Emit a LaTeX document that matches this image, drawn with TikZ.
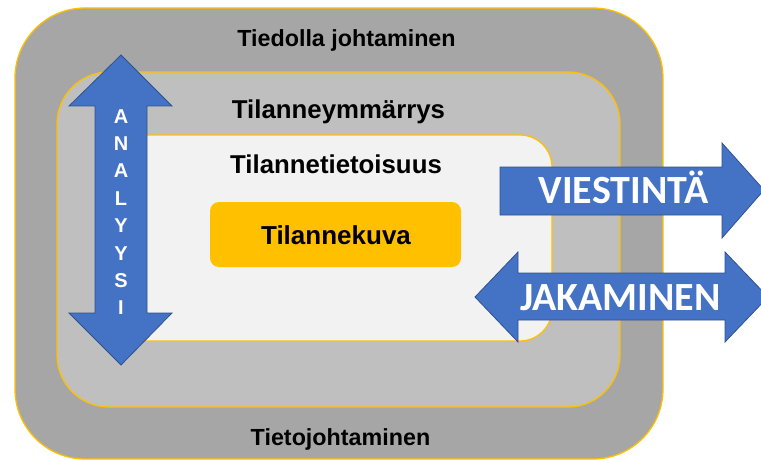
\documentclass[tikz,border=0pt]{standalone}
\usepackage{fontspec}
\setmainfont{Liberation Sans}
\newfontfamily\carlito{Carlito}
\definecolor{ringA}{HTML}{A6A6A6}
\definecolor{ringB}{HTML}{BFBFBF}
\definecolor{ringC}{HTML}{F2F2F2}
\definecolor{gold}{HTML}{FFC000}
\definecolor{blueF}{HTML}{4472C4}
\definecolor{blueD}{HTML}{2F528F}
\tikzset{
  ring/.style={draw=gold, line width=1.3pt},
  bluearrow/.style={fill=blueF, draw=blueD, line width=0.8pt, line join=miter},
  lbl/.style={font=\bfseries\fontsize{#1}{#1}\selectfont, anchor=base, inner sep=0pt},
  lbl/.default=23.3,
  biglbl/.style={font=\carlito\bfseries\fontsize{40}{40}\selectfont, text=white, anchor=base, inner sep=0pt},
  letter/.style={font=\bfseries\fontsize{20}{20}\selectfont, text=white, anchor=base, inner sep=0pt}
}
\begin{document}
\begin{tikzpicture}[x=1pt,y=-1pt]
\useasboundingbox (0,0) rectangle (761,460);
% rings
\draw[ring, fill=ringA, rounded corners=70pt] (15,8) rectangle (663,459);
\draw[ring, fill=ringB, rounded corners=52pt] (57,72) rectangle (620,407);
\draw[ring, fill=ringC, rounded corners=32pt] (110,135) rectangle (552,341);
\node[fill=gold, rounded corners=9pt, minimum width=251pt, minimum height=65pt, inner sep=0pt] (kuva) at (335.5,234.5) {};
% labels
\node[lbl] (tj1) at (346.5,47) {Tiedolla johtaminen};
\node[lbl=25.8] (tym) at (338.5,118) {Tilanneymmärrys};
\node[lbl=25.8] (tti) at (336,173) {Tilannetietoisuus};
\node[lbl=26] (tku) at (336,244) {Tilannekuva};
\node[lbl] (tj2) at (340.5,445) {Tietojohtaminen};
% analysis arrow
\draw[bluearrow] (121,55) -- (172,106) -- (147,106) -- (147,313) -- (172,313) -- (121,365)
  -- (69,313) -- (95,313) -- (95,106) -- (69,106) -- cycle;
\foreach \ch [count=\i from 0] in {A,N,A,L,Y,Y,S,I}{
  \node[letter] (an\i) at (121,123+27.4*\i) {\ch};
}
% viestinta arrow
\draw[bluearrow] (500,167) -- (722,167) -- (722,143) -- (764,190) -- (722,238) -- (722,215) -- (500,215) -- cycle;
\node[biglbl] (vies) at (623.5,203) {VIESTINTÄ};
% jakaminen arrow
\draw[bluearrow] (475,297) -- (518,252) -- (518,273) -- (725,273) -- (725,252) -- (768,297)
  -- (725,342) -- (725,320) -- (518,320) -- (518,342) -- cycle;
\node[biglbl] (jak) at (620.5,310) {JAKAMINEN};
\end{tikzpicture}
\end{document}
